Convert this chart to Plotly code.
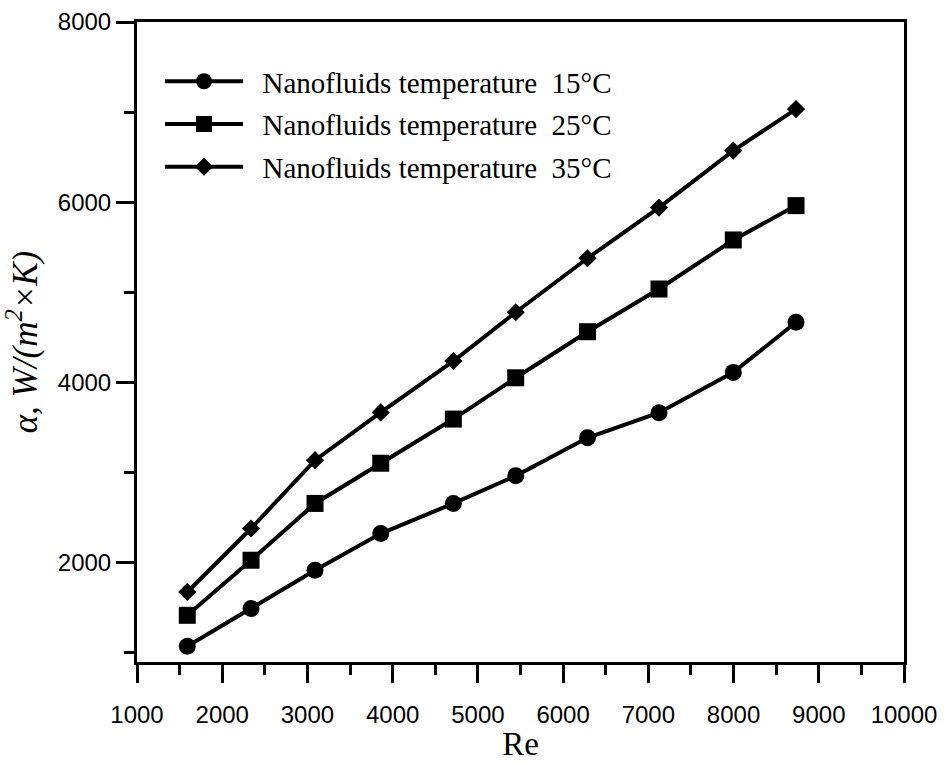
import plotly.graph_objects as go

re_values = [1590, 2338, 3089, 3860, 4712, 5444, 6286, 7125, 7997, 8733]
alpha_15 = [1074, 1493, 1918, 2325, 2659, 2965, 3387, 3665, 4113, 4669]
alpha_25 = [1418, 2029, 2659, 3105, 3595, 4053, 4564, 5038, 5582, 5963]
alpha_35 = [1677, 2381, 3139, 3669, 4239, 4780, 5379, 5941, 6574, 7034]

series = [
    ("\u00a0\u00a0Nanofluids temperature\u00a0 15°C", alpha_15, "circle", 17),
    ("\u00a0\u00a0Nanofluids temperature\u00a0 25°C", alpha_25, "square", 17),
    ("\u00a0\u00a0Nanofluids temperature\u00a0 35°C", alpha_35, "diamond", 14),
]

fig = go.Figure()
for i, (name, ys, sym, sz) in enumerate(series):
    fig.add_trace(go.Scatter(
        x=re_values, y=ys, name=name, mode="lines+markers",
        legendgroup=f"g{i}",
        line=dict(color="black", width=4),
        marker=dict(symbol=sym, size=sz, color="black"),
    ))

tick_font = dict(family="Liberation Sans", size=24, color="black")
title_font = dict(family="Liberation Serif", size=35, color="black")

fig.update_layout(
    width=944, height=762,
    margin=dict(l=137, r=40, t=22, b=100, autoexpand=False),
    paper_bgcolor="white", plot_bgcolor="white",
    showlegend=True,
    legend=dict(
        x=0.03, y=0.947, xanchor="left", yanchor="top",
        font=dict(family="Liberation Serif", size=29, color="black"),
        bgcolor="rgba(0,0,0,0)", itemwidth=78, tracegroupgap=2,
    ),
)
fig.update_xaxes(
    range=[1000, 10000], tickmode="linear", tick0=1000, dtick=1000, tickformat="d",
    automargin=False, ticklabelstandoff=11,
    showline=True, linecolor="black", linewidth=3, mirror=True,
    ticks="outside", ticklen=18, tickwidth=3, tickcolor="black",
    showgrid=False, zeroline=False, tickfont=tick_font,
    minor=dict(dtick=500, ticklen=10, tickwidth=3, ticks="outside", tickcolor="black", showgrid=False),
    title=dict(text="Re", font=dict(family="Liberation Serif", size=33, color="black"), standoff=12),
)
fig.update_yaxes(
    range=[900, 8000], tickmode="linear", tick0=2000, dtick=2000, tickformat="d",
    automargin=False,
    showline=True, linecolor="black", linewidth=3, mirror=True,
    ticks="outside", ticklen=18, tickwidth=3, tickcolor="black",
    showgrid=False, zeroline=False, tickfont=tick_font,
    minor=dict(tick0=1000, dtick=1000, ticklen=10, tickwidth=3, ticks="outside", tickcolor="black", showgrid=False),
    title=dict(text="<i>α, W/(m<sup>2</sup>×K)</i>", font=title_font, standoff=12),
)

fig.write_html("out.html")
